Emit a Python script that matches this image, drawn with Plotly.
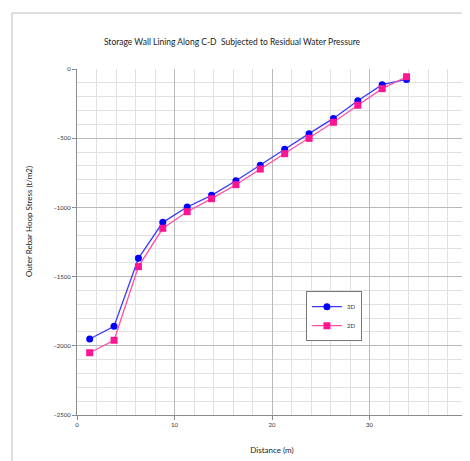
import plotly.graph_objects as go

distance = [1.3, 3.8, 6.3, 8.8, 11.3, 13.8, 16.3, 18.8, 21.3, 23.8, 26.3, 28.8, 31.3, 33.8]
stress_3d = [-1951, -1859, -1368, -1108, -997, -913, -807, -696, -580, -467, -357, -229, -113, -75]
stress_2d = [-2050, -1960, -1428, -1151, -1031, -937, -836, -723, -612, -501, -385, -262, -142, -56]

FONT = "Lato"

# page body has an 8px margin, so the figure is sized to the visible area
W, H = 462, 453
L, T, PW, PH = 69, 61, 390, 346

fig = go.Figure()
fig.add_trace(go.Scatter(
    x=distance, y=stress_3d, name="3D", mode="lines+markers",
    line=dict(color="#3a3aff", width=1.3),
    marker=dict(symbol="circle", size=7, color="#0000ff"),
))
fig.add_trace(go.Scatter(
    x=distance, y=stress_2d, name="2D", mode="lines+markers",
    line=dict(color="#ff4fa7", width=1.3),
    marker=dict(symbol="square", size=7, color="#ff1493"),
))

axis_common = dict(
    showgrid=True, gridcolor="#b8b8b8", gridwidth=1,
    zeroline=False, showline=True, linecolor="#8c8c8c", linewidth=1,
    ticks="outside", ticklen=4, tickcolor="#8c8c8c",
    tickfont=dict(family=FONT, size=6, color="#333"),
    automargin=False,
)

fig.update_xaxes(
    range=[0, 40], dtick=10, tick0=0,
    minor=dict(dtick=2, showgrid=True, gridcolor="#e0e0e0", gridwidth=1),
    title=dict(text="Distance (m)", font=dict(family=FONT, size=8, color="#222"), standoff=20),
    **axis_common,
)
fig.update_yaxes(
    range=[-2500, 0], dtick=500, tick0=0,
    minor=dict(dtick=100, showgrid=True, gridcolor="#e0e0e0", gridwidth=1),
    **axis_common,
)

fig.add_annotation(
    text="Outer Rebar Hoop Stress (t/m2)", textangle=-90,
    xref="paper", yref="paper", x=(21 - L) / PW, y=(T + PH - 214) / PH,
    xanchor="center", yanchor="middle", showarrow=False,
    font=dict(family=FONT, size=8, color="#222"),
)

fig.update_layout(
    width=W, height=H,
    margin=dict(l=L, r=W - L - PW, t=T, b=H - T - PH, autoexpand=False),
    paper_bgcolor="white", plot_bgcolor="white",
    title=dict(text="Storage Wall Lining Along C-D  Subjected to Residual Water Pressure",
               font=dict(family=FONT, size=8.5, color="#222"),
               x=224 / W, xanchor="center", y=1 - 34 / H, yanchor="middle"),
    legend=dict(
        x=0.587, y=0.358, xanchor="left", yanchor="top",
        bgcolor="white", bordercolor="#777", borderwidth=1,
        font=dict(family=FONT, size=6, color="#333"),
        itemwidth=30, tracegroupgap=0,
    ),
    showlegend=True,
)

# outer chart border (top and left edges visible)
fig.add_shape(type="rect", xref="paper", yref="paper",
              x0=(4 - L) / PW, x1=(470 - L) / PW,
              y0=(T + PH - 470) / PH, y1=(T + PH - 5) / PH,
              line=dict(color="#c0c0c0", width=1), layer="below")

fig.write_html("out.html")
